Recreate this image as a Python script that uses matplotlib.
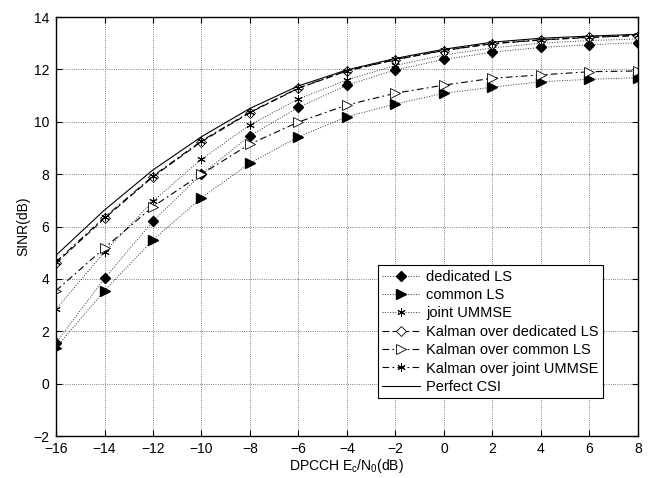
import matplotlib
matplotlib.use("Agg")
import matplotlib.pyplot as plt

plt.rcParams['font.family'] = ['Liberation Sans', 'DejaVu Sans']
plt.rcParams['mathtext.fontset'] = 'custom'
plt.rcParams['mathtext.rm'] = 'Liberation Sans'

snr = [-16, -14, -12, -10, -8, -6, -4, -2, 0, 2, 4, 6, 8]
dedicated_ls = [1.56, 4.02, 6.21, 8.0, 9.46, 10.55, 11.4, 11.98, 12.38, 12.66, 12.84, 12.94, 13.02]
common_ls = [1.37, 3.55, 5.49, 7.1, 8.42, 9.43, 10.19, 10.68, 11.09, 11.32, 11.53, 11.62, 11.68]
joint_ummse = [2.84, 5.03, 6.97, 8.57, 9.88, 10.87, 11.6, 12.15, 12.55, 12.82, 13.0, 13.1, 13.16]
kalman_ded = [4.6, 6.31, 7.9, 9.24, 10.35, 11.28, 11.94, 12.37, 12.72, 12.98, 13.12, 13.22, 13.29]
kalman_com = [3.55, 5.18, 6.76, 8.0, 9.15, 9.99, 10.64, 11.09, 11.4, 11.66, 11.79, 11.91, 11.94]
kalman_joint = [4.65, 6.35, 7.93, 9.27, 10.37, 11.29, 11.95, 12.38, 12.73, 12.99, 13.13, 13.23, 13.3]
perfect = [4.9, 6.63, 8.16, 9.43, 10.51, 11.37, 11.98, 12.42, 12.77, 13.04, 13.19, 13.27, 13.34]

fig = plt.figure(figsize=(6.52, 4.78), dpi=100)
ax = fig.add_axes([56/652, 1-436/478, (638-56)/652, (436-17)/478])

ast = (6, 2, 0)
dot = dict(color='#333333', linestyle=':', linewidth=0.7)
ax.plot(snr, dedicated_ls, marker='D', markersize=5, markerfacecolor='black', markeredgecolor='black', label='dedicated LS', **dot)
ax.plot(snr, common_ls, marker='>', markersize=6.5, markerfacecolor='black', markeredgecolor='black', label='common LS', **dot)
ax.plot(snr, joint_ummse, marker=ast, markersize=6, markerfacecolor='black', markeredgecolor='black', markeredgewidth=0.7, label='joint UMMSE', **dot)
ax.plot(snr, kalman_ded, color='black', linestyle=(0, (6, 3)), linewidth=0.8, marker='D', markersize=5, markerfacecolor='white', markeredgecolor='black', markeredgewidth=0.6, label='Kalman over dedicated LS')
ax.plot(snr, kalman_com, color='black', linestyle=(0, (6, 3, 1.5, 3)), linewidth=0.8, marker='>', markersize=6.5, markerfacecolor='white', markeredgecolor='black', markeredgewidth=0.6, label='Kalman over common LS')
ax.plot(snr, kalman_joint, color='black', linestyle=(0, (6, 3, 1.5, 3)), linewidth=0.8, marker=ast, markersize=6, markerfacecolor='black', markeredgecolor='black', markeredgewidth=0.7, label='Kalman over joint UMMSE')
ax.plot(snr, perfect, color='black', linestyle='-', linewidth=0.8, label='Perfect CSI')

ax.set_xlim(-16, 8)
ax.set_ylim(-2, 14)
ax.set_xticks(range(-16, 9, 2))
ax.set_yticks(range(-2, 15, 2))
ax.set_xticklabels([str(v).replace('-', '\u2212') for v in range(-16, 9, 2)])
ax.set_yticklabels([str(v).replace('-', '\u2212') for v in range(-2, 15, 2)])
ax.tick_params(direction='in', labelsize=10, top=True, right=True, length=4)
ax.tick_params(axis='x', pad=4)
ax.tick_params(axis='y', pad=5)
ax.grid(True, linestyle=':', color='#555555', linewidth=0.6)
for s in ax.spines.values():
    s.set_linewidth(1.0)

ax.set_xlabel('DPCCH E$_\\mathregular{c}$/N$_\\mathregular{0}$(dB)', fontsize=10, labelpad=1)
ax.set_ylabel('SINR(dB)', fontsize=10, labelpad=2)

leg = ax.legend(loc='lower right', bbox_to_anchor=(0.94, 0.09), fontsize=10.5, frameon=True,
                fancybox=False, edgecolor='black', framealpha=1, handlelength=2.6,
                borderpad=0.3, labelspacing=0.3, handletextpad=0.4, borderaxespad=0)
leg.get_frame().set_linewidth(0.8)

fig.savefig('out.png', dpi=100)
